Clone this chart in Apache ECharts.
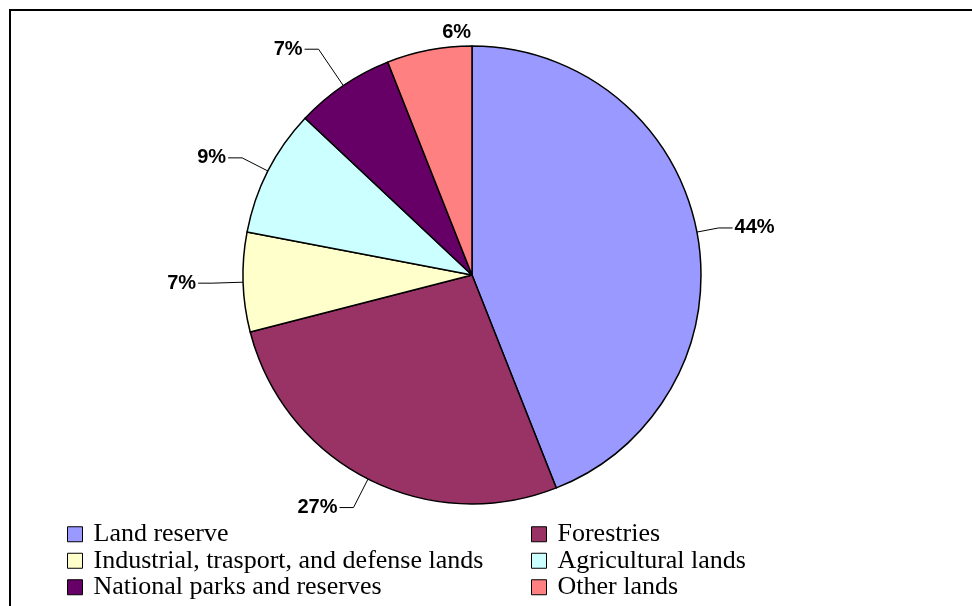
<!DOCTYPE html>
<html>
<head>
<meta charset="utf-8">
<script src="https://cdn.jsdelivr.net/npm/echarts@6/dist/echarts.min.js"></script>
<style>
  html, body { margin: 0; padding: 0; background: #ffffff; }
  #chart { width: 972px; height: 606px; }
</style>
</head>
<body>
<div id="chart"></div>
<script>
// land use categories, clockwise from 12 o'clock
var categories = [
  "Land reserve",
  "Forestries",
  "Industrial, trasport, and defense lands",
  "Agricultural lands",
  "National parks and reserves",
  "Other lands"
];
var shares = [44, 27, 7, 9, 7, 6];
var colors = ["#9999FF", "#993366", "#FFFFCC", "#CCFFFF", "#660066", "#FF8080"];

// leader line lengths (first segment) per slice, 0 = no line
var leaderLen = [22, 32, 31, 29, 44, 0];

// legend is laid out in two columns, reading row by row
var legendLeft = [categories[0], categories[2], categories[4]];
var legendRight = [categories[1], categories[3], categories[5]];

var chart = echarts.init(document.getElementById("chart"));

var pieData = categories.map(function (name, i) {
  var item = { name: name, value: shares[i], itemStyle: { color: colors[i] } };
  if (leaderLen[i] > 0) {
    item.labelLine = { length: leaderLen[i], length2: 14 };
  } else {
    item.labelLine = { show: false, length: 0, length2: 0 };
  }
  return item;
});

function legendBlock(left, data) {
  return {
    orient: "vertical",
    left: left,
    top: 521,
    height: 90,
    padding: 0,
    data: data,
    icon: "rect",
    itemWidth: 15,
    itemHeight: 15,
    itemGap: 0,
    selectedMode: false,
    itemStyle: { borderColor: "#000000", borderWidth: 1 },
    textStyle: {
      fontFamily: "Liberation Serif",
      fontSize: 26,
      color: "#000000",
      padding: [0, 0, 0, 6],
      lineHeight: 26.5
    }
  };
}

chart.setOption({
  backgroundColor: "#ffffff",
  animation: false,
  graphic: [
    {
      type: "rect",
      z: -1,
      shape: { x: 10, y: 10, width: 1000, height: 700 },
      style: { fill: "none", stroke: "#000000", lineWidth: 2 }
    }
  ],
  legend: [legendBlock(67, legendLeft), legendBlock(531, legendRight)],
  series: [
    {
      type: "pie",
      center: [472, 275],
      radius: 229,
      startAngle: 90,
      clockwise: true,
      avoidLabelOverlap: false,
      itemStyle: { borderColor: "#000000", borderWidth: 1.5 },
      emphasis: { disabled: true },
      label: {
        show: true,
        formatter: "{c}%",
        fontFamily: "Liberation Sans",
        fontWeight: "bold",
        fontSize: 20,
        color: "#000000",
        distanceToLabelLine: 2
      },
      labelLine: {
        show: true,
        lineStyle: { color: "#000000", width: 1 }
      },
      // the smallest slice's label sits straight above the top of the pie
      labelLayout: function (params) {
        if (params.dataIndex === 5) {
          return { dx: 44, dy: -18 };
        }
      },
      data: pieData
    }
  ]
});
</script>
</body>
</html>
